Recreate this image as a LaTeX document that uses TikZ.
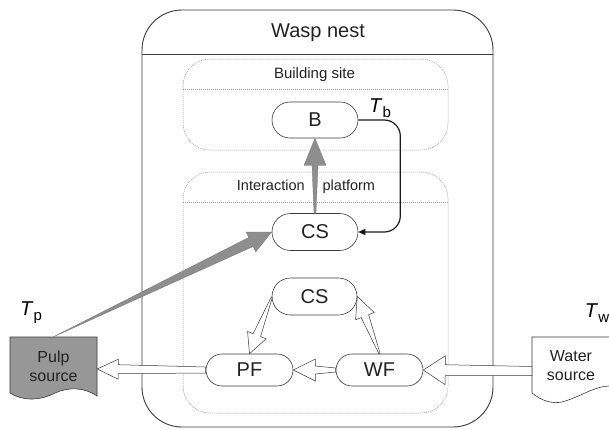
\documentclass[tikz,border=0pt]{standalone}
\usepackage{fontspec}
\setmainfont{Liberation Sans}
\usetikzlibrary{calc,shapes.misc,arrows.meta}
\definecolor{ink}{HTML}{222222}
\definecolor{linec}{HTML}{3A3A3A}
\definecolor{dashc}{HTML}{A0A0A0}
\definecolor{grayfill}{HTML}{8E8E8E}
\definecolor{srcfill}{HTML}{979797}
\newcommand{\fatarrow}[7]{%
  \coordinate (fa-s) at (#2);
  \coordinate (fa-e) at (#3);
  \coordinate (fa-h) at ($(fa-e)!#7!(fa-s)$);
  \filldraw[#1] ($(fa-s)!#4!90:(fa-e)$) -- ($(fa-h)!#5!90:(fa-e)$) -- ($(fa-h)!#6!90:(fa-e)$) -- (fa-e) -- ($(fa-h)!#6!-90:(fa-e)$) -- ($(fa-h)!#5!-90:(fa-e)$) -- ($(fa-s)!#4!-90:(fa-e)$) -- cycle;}
\tikzset{
  nestbox/.style={draw=linec, line width=0.9pt, rounded corners=40pt},
  zonebox/.style={draw=dashc, line width=0.5pt, dash pattern=on 1.2pt off 0.8pt, rounded corners=27pt},
  zoneline/.style={draw=dashc, line width=0.5pt, dash pattern=on 1.2pt off 0.8pt},
  stadium/.style={rounded rectangle, draw=linec, line width=0.6pt, fill=white, text=ink, font=\fontsize{20}{22}\selectfont, inner sep=0pt},
  zonelabel/.style={text=ink, font=\fontsize{15}{17}\selectfont, inner sep=0pt},
  srclabel/.style={text=ink, font=\fontsize{16}{19}\selectfont, align=center, inner sep=0pt},
  tlabel/.style={text=black, font=\fontsize{20}{22}\selectfont, inner sep=0pt},
  grayarrow/.style={fill=grayfill, draw=grayfill!80!black, line width=0.3pt},
  hollowarrow/.style={fill=white, draw=linec, line width=0.5pt},
  loopline/.style={draw=black!90, line width=1.2pt, rounded corners=16pt, -{Triangle[length=7pt,width=6pt]}},
  area/.style={inner sep=0pt, outer sep=0pt},
}
\begin{document}
\begin{tikzpicture}[x=1pt,y=-1pt]
\useasboundingbox (0,0) rectangle (609,429);
% containers
\node[area, minimum width=351pt, minimum height=417pt] (nest) at (317.5,218.5) {};
\draw[nestbox] (nest.south west) rectangle (nest.north east);
\draw[linec, line width=0.9pt] (nest.west |- 0,54) -- (nest.east |- 0,54);
\node[text=ink, font=\fontsize{20}{22}\selectfont, inner sep=0pt] (nestlabel) at (318,33) {Wasp nest};
\node[area, minimum width=265pt, minimum height=91pt] (site) at (315.5,104.5) {};
\draw[zonebox] (site.south west) rectangle (site.north east);
\draw[zoneline] (site.west |- 0,89) -- (site.east |- 0,89);
\node[zonelabel] (sitelabel) at (314.5,75) {Building site};
\node[area, minimum width=265pt, minimum height=241pt] (plat) at (315.5,292.5) {};
\draw[zonebox] (plat.south west) rectangle (plat.north east);
\draw[zoneline] (plat.west |- 0,202) -- (plat.east |- 0,202);
\node[zonelabel, font=\fontsize{14.5}{17}\selectfont] (platlabel) at (306,187) {Interaction\hspace{18pt}platform};
% sources
\draw[linec, line width=0.6pt, fill=srcfill] (10,337) -- (97,337) -- (97,396)
  .. controls (84,387) and (68,387) .. (55,393)
  .. controls (40,401) and (22,401) .. (10,393) -- cycle;
\node[srclabel, minimum width=87pt, minimum height=58pt] (pulp) at (53.5,366) {Pulp\\source};
\draw[linec, line width=0.6pt] (609,337) -- (532,337) -- (532,393)
  .. controls (542,401) and (552,404) .. (562,402)
  .. controls (580,397) and (595,386) .. (609,386);
\node[srclabel, minimum width=78pt, minimum height=58pt] (water) at (571,366) {Water\\source};
\node[tlabel] (tp) at (31,313) {\textit{T}\raisebox{-5pt}{\fontsize{15}{15}\selectfont p}};
\node[tlabel] (tw) at (597,313) {\textit{T}\raisebox{-5pt}{\fontsize{15}{15}\selectfont w}};
% nodes
\node[stadium, minimum width=86pt, minimum height=36pt] (B) at (315,120) {B};
\node[stadium, minimum width=86pt, minimum height=37pt] (CS1) at (315,232) {CS};
\node[stadium, minimum width=85pt, minimum height=37pt] (CS2) at (314.5,296.5) {CS};
\node[stadium, minimum width=87pt, minimum height=32pt] (PF) at (249.5,370) {PF};
\node[stadium, minimum width=87pt, minimum height=32pt] (WF) at (379.5,370) {WF};
\node[tlabel] (tb) at (380,108) {\textit{T}\raisebox{-5pt}{\fontsize{15}{15}\selectfont b}};
% connectors
\draw[loopline] (B.east) -- ++(42,0) |- (CS1.east);
\fatarrow{grayarrow}{CS1.north}{B.south}{1pt}{3pt}{11pt}{27pt}
\fatarrow{grayarrow}{pulp.north}{CS1.west}{0pt}{5pt}{11pt}{23pt}
\fatarrow{hollowarrow}{$(water.west)+(0,5)$}{WF.east}{4.5pt}{5.5pt}{14.5pt}{22pt}
\fatarrow{hollowarrow}{WF.west}{PF.east}{2pt}{4pt}{11pt}{22pt}
\fatarrow{hollowarrow}{PF.west}{$(pulp.east)+(0,3)$}{3pt}{4.5pt}{10pt}{21pt}
\fatarrow{hollowarrow}{$(CS2.west)+(0,1)$}{PF.north}{0.6pt}{4pt}{10pt}{20pt}
\fatarrow{hollowarrow}{WF.north}{CS2.east}{0.6pt}{4pt}{10pt}{21pt}
\end{tikzpicture}
\end{document}
